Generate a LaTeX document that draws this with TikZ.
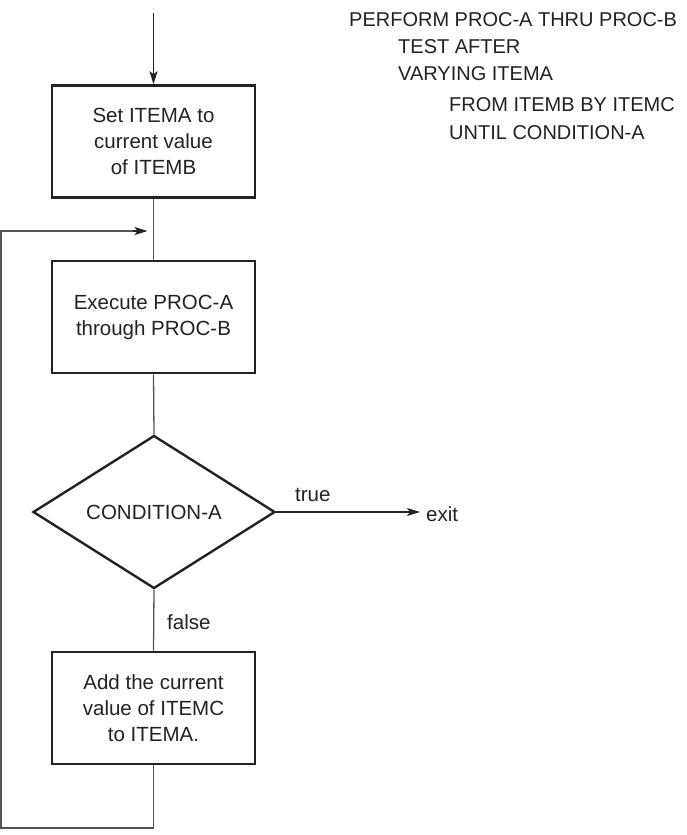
\documentclass[tikz,border=0pt]{standalone}
\usepackage{fontspec}
\setmainfont{Liberation Sans}
\usetikzlibrary{shapes.geometric,arrows.meta}
\definecolor{ink}{HTML}{222222}
\definecolor{wire}{HTML}{555555}
\begin{document}
\begin{tikzpicture}[x=1pt,y=-1pt,
  txt/.style={font=\fontsize{20.5}{26}\selectfont, text=ink},
  codetxt/.style={font=\fontsize{20}{26}\selectfont, text=ink, anchor=base west, inner sep=0pt},
  procbox/.style={draw=ink, line width=2.6pt, minimum width=203pt, minimum height=112pt, align=center, txt, inner sep=0pt},
  decision/.style={draw=ink, line width=2.4pt, shape=diamond, aspect=1.58, minimum width=242pt, minimum height=153pt, inner sep=0pt, txt},
  wireline/.style={draw=wire, line width=1.3pt},
  arr/.style={wireline, -{Stealth[length=13pt,width=8pt,inset=3pt]}, draw=ink}
]
\useasboundingbox (0,0) rectangle (686,835);

\coordinate (top) at (153.5,13);
\node[procbox] (box1) at (153.5,141.5) {Set ITEMA to\\current value\\of ITEMB};
\node[procbox] (box2) at (153.5,317) {Execute PROC-A\\through PROC-B};
\node[decision] (cond) at (154,512) {CONDITION-A};
\node[procbox] (box3) at (153.5,708) {Add the current\\value of ITEMC\\to ITEMA.};
\node[txt, anchor=base west, inner sep=0pt] (exit) at (426,521) {exit};
\node[txt, anchor=base west, inner sep=0pt] (true) at (295,501) {true};
\node[txt, anchor=base west, inner sep=0pt] (false) at (167,629) {false};

\coordinate (j) at (153.5,231);
\coordinate (bl) at (153.5,828);
\coordinate (lc) at (1,828);
\coordinate (lt) at (1,231);

\draw[arr] (top) -- (box1.north);
\draw[wireline] (box1.south) -- (box2.north);
\draw[wireline] (box2.south) -- (cond.north);
\draw[wireline] (cond.south) -- (box3.north);
\draw[arr, shorten >=0pt] (cond.east) -- ([xshift=-6pt]exit.west |- cond.east);
\draw[wireline] (box3.south) -- (bl) -- (lc) -- (lt) -- ([xshift=-20pt]j);
\draw[arr] ([xshift=-21pt]j) -- ([xshift=-6pt]j);

\node[codetxt] (p1) at (349,26) {PERFORM PROC-A THRU PROC-B};
\node[codetxt] (p2) at (398,53) {TEST AFTER};
\node[codetxt] (p3) at (398,80) {VARYING ITEMA};
\node[codetxt] (p4) at (449,111) {FROM ITEMB BY ITEMC};
\node[codetxt] (p5) at (449,139) {UNTIL CONDITION-A};
\end{tikzpicture}
\end{document}
